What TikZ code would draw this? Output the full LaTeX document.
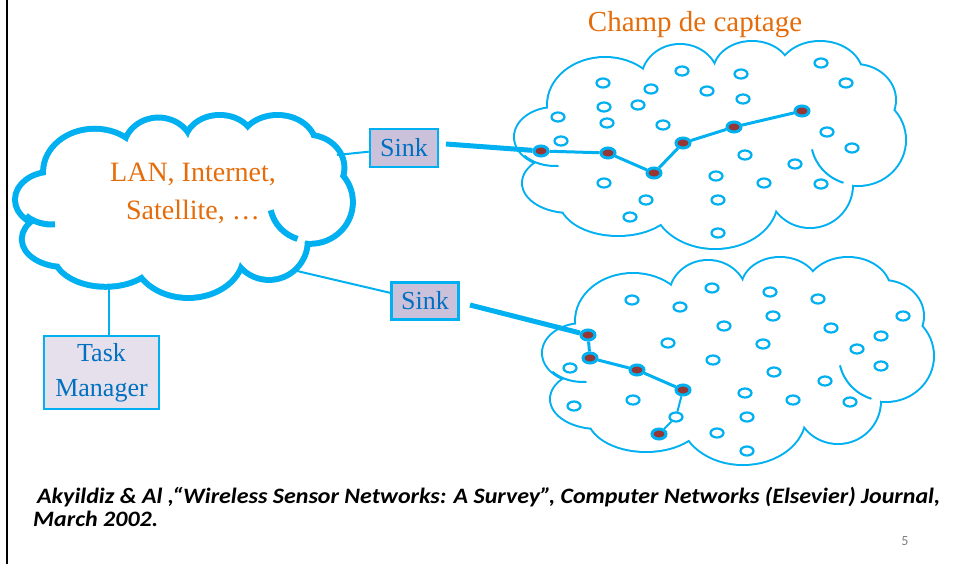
\documentclass[tikz,border=0pt]{standalone}
\usepackage{fontspec}
\setmainfont{Liberation Serif}
\newfontfamily\calib{Carlito}
\newfontfamily\calibw[FakeStretch=1.09]{Carlito}
\usetikzlibrary{shapes.geometric}
\definecolor{cy}{HTML}{00B0F0}
\definecolor{dred}{HTML}{953735}
\definecolor{tblue}{HTML}{0070C0}
\definecolor{orng}{HTML}{E46C0A}
\definecolor{sinkfill}{HTML}{CCC1DA}
\definecolor{tmfill}{HTML}{E6E0EC}
\def\cloudlist{40/95/40/29, 55/141/47/29, 103/158/58/35, 200/158/62/48, 295/143/42/42, 343/98/47/45, 340/58/40/35, 305/33/42/33, 237/30/38/30, 165/38/38/35, 90/63/57/47}
\def\ticklist{40/95/40/29/140/85, 343/98/47/45/168/108}
\newcommand\cloudfig[2]{%
  \foreach \cx/\cy/\rx/\ry in \cloudlist {\draw[cy, line width=#1] (\cx,\cy) ellipse [x radius=\rx, y radius=\ry];}
  \foreach \cx/\cy/\rx/\ry in \cloudlist {\fill[white] (\cx,\cy) ellipse [x radius=\rx, y radius=\ry];}
  \fill[white] (195,103) ellipse [x radius=160, y radius=70];
  \foreach \cx/\cy/\rx/\ry/\aa/\bb in \ticklist {\draw[cy, line width=#2] (\cx,\cy) ++({\rx*cos(\aa)},{\ry*sin(\aa)}) arc [start angle=\aa, end angle=\bb, x radius=\rx, y radius=\ry];}
}
\tikzset{
  sens/.style={ellipse, draw=cy, line width=2.2pt, fill=white, minimum width=13pt, minimum height=9pt, inner sep=0pt},
  act/.style={ellipse, draw=cy, line width=3pt, fill=dred, minimum width=14pt, minimum height=10pt, inner sep=0pt},
  box/.style={draw=cy, line width=2.5pt, text=tblue, inner sep=0pt, font=\fontsize{26}{35}\selectfont, align=center},
  thin/.style={cy, line width=2pt},
  thick/.style={cy, line width=5pt},
  route/.style={cy, line width=3pt},
  cite/.style={font=\calibw\bfseries\itshape\fontsize{22}{23}\selectfont, anchor=base west, inner sep=0pt}
}
\begin{document}
\begin{tikzpicture}[x=1pt,y=-1pt]
\useasboundingbox[fill=white] (0,0) rectangle (953,564);
\draw[black, line width=2.5pt] (7,0) -- (7,564);

% clouds
\begin{scope}[shift={(18,118)}, xscale=0.851, yscale=0.859]
  \cloudfig{12pt}{6pt}
\end{scope}
\begin{scope}[shift={(515,42)}]
  \cloudfig{4pt}{2pt}
\end{scope}
\begin{scope}[shift={(543,258)}]
  \cloudfig{4pt}{2pt}
\end{scope}

% texts
\node[text=orng, font=\fontsize{29}{34}\selectfont, anchor=base] (title) at (695,32) {Champ de captage};
\node[text=orng, font=\fontsize{28}{34}\selectfont, anchor=base] (lan1) at (193,182) {LAN, Internet,};
\node[text=orng, font=\fontsize{28}{34}\selectfont, anchor=base] (lan2) at (193,219) {Satellite, …};

% boxes
\node[box, fill=sinkfill, minimum width=68pt, minimum height=38pt] (sink1) at (404,148) {Sink};
\node[box, fill=sinkfill, minimum width=67pt, minimum height=37pt] (sink2) at (425,301) {Sink};
\node[box, fill=tmfill, minimum width=115pt, minimum height=73pt] (tm) at (101.5,372.5) {Task\\Manager};

% upper sensor field
\foreach \x/\y [count=\i] in {603/83, 651/89, 682/71, 741/74, 821/63, 846/83, 707/91, 743/99, 604/107, 638/105, 558/117, 607/123, 663/125, 561/141, 827/132, 852/148, 745/155, 795/164, 604/183, 716/176, 764/183, 821/184, 646/200, 718/200, 630/217, 718/233}
  \node[sens] (a\i) at (\x,\y) {};
\foreach \x/\y [count=\i] in {541/151, 608/153, 654/173, 683/143, 734/127, 802/111}
  \node[act] (r\i) at (\x,\y) {};
\draw[route] (r1) -- (r2) -- (r3) -- (r4) -- (r5) -- (r6);

% lower sensor field
\foreach \x/\y [count=\i] in {632/300, 680/307, 712/288, 770/292, 818/299, 903/316, 773/316, 724/326, 831/328, 881/336, 668/343, 763/344, 857/349, 713/360, 881/366, 570/368, 774/372, 825/381, 633/400, 745/393, 793/400, 850/402, 574/406, 747/417, 676/417, 717/433, 747/451}
  \node[sens] (b\i) at (\x,\y) {};
\foreach \x/\y [count=\i] in {588/335, 590/358, 637/370, 683/390, 659/434}
  \node[act] (s\i) at (\x,\y) {};
\draw[route] (s1) -- (s2) -- (s3) -- (s4);
\draw[thin] (s4) -- (b25) -- (s5);

% connectors
\coordinate (c1) at (337,155);
\coordinate (c2) at (297,271);
\coordinate (c3) at (109,289);
\coordinate (t1) at (446,144);
\coordinate (t2) at (470,305);
\draw[thin] (c1) -- (sink1);
\draw[thin] (c2) -- (sink2);
\draw[thin] (c3) -- (c3 |- tm.north);
\draw[thick] (t1) -- (r1);
\draw[thick] (t2) -- (s1);

% citation
\node[cite] (cit1) at (37,503) {Akyildiz \& Al ,“Wireless Sensor Networks: A Survey”, Computer Networks (Elsevier) Journal,};
\node[cite] (cit2) at (33,526) {March 2002.};
\node[font=\calib\fontsize{14}{16}\selectfont, text=gray, anchor=base] (pg) at (905,545) {5};
\end{tikzpicture}
\end{document}
